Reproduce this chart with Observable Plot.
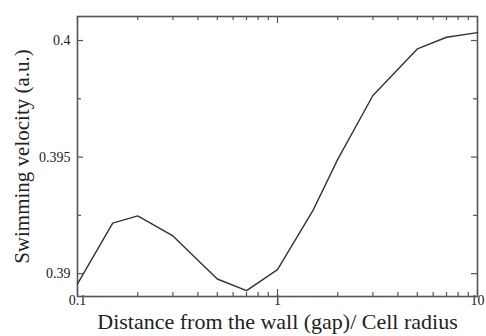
<!DOCTYPE html>
<html>
<head>
<meta charset="utf-8">
<script src="https://cdn.jsdelivr.net/npm/d3@7"></script>
<script src="https://cdn.jsdelivr.net/npm/@observablehq/plot@0.6"></script>
<style>
  html, body { margin: 0; padding: 0; background: #fff; }
  #chart svg { display: block; }
</style>
</head>
<body>
<div id="chart"></div>
<script>
// Data
const gap = [0.1, 0.15, 0.2, 0.3, 0.5, 0.7, 1, 1.5, 2, 3, 5, 7, 10];
const velocity = [0.38956, 0.39217, 0.39248, 0.39162, 0.38977, 0.38927, 0.39017, 0.39269, 0.39490, 0.39764, 0.39964, 0.40014, 0.40034];

// Tick values
const xMajorTicks = [0.1, 1, 10];
const xMinorTicks = [0.2, 0.3, 0.4, 0.5, 0.6, 0.7, 0.8, 0.9, 2, 3, 4, 5, 6, 7, 8, 9];
const yMajorTicks = [0.39, 0.395, 0.4];
const yMinorTicks = [0.3925, 0.3975];

const xLabel = "Distance from the wall (gap)/ Cell radius";
const yLabel = "Swimming velocity (a.u.)";

const table = gap.map((g, i) => ({gap: g, velocity: velocity[i]}));
const axisColor = "#555";
const W = 486, H = 336, mL = 77, mR = 9, mT = 16, mB = 40;
const iw = W - mL - mR, ih = H - mT - mB;
const tk = {stroke: axisColor, strokeWidth: 1.2};

const chart = Plot.plot({
  width: W, height: H, marginLeft: mL, marginRight: mR, marginTop: mT, marginBottom: mB,
  style: {fontFamily: "Liberation Serif, serif", fontSize: "14px", color: "#222", background: "#fff"},
  x: {type: "log", domain: [0.1, 10], axis: null},
  y: {domain: [0.38902, 0.40103], axis: null},
  marks: [
    // inward ticks on all four sides
    Plot.ruleX(xMajorTicks, {x: d => d, insetTop: ih - 7, ...tk}),
    Plot.ruleX(xMinorTicks, {x: d => d, insetTop: ih - 4, ...tk}),
    Plot.ruleX(xMajorTicks, {x: d => d, insetBottom: ih - 7, ...tk}),
    Plot.ruleX(xMinorTicks, {x: d => d, insetBottom: ih - 4, ...tk}),
    Plot.ruleY(yMajorTicks, {y: d => d, insetRight: iw - 6, ...tk}),
    Plot.ruleY(yMinorTicks, {y: d => d, insetRight: iw - 4, ...tk}),
    Plot.ruleY(yMajorTicks, {y: d => d, insetLeft: iw - 6, ...tk}),
    Plot.ruleY(yMinorTicks, {y: d => d, insetLeft: iw - 4, ...tk}),
    // tick labels
    Plot.text(xMajorTicks, {x: d => d, frameAnchor: "bottom", dy: 4, lineAnchor: "middle", textAnchor: "middle", text: d => String(d), fontSize: 14, fill: "#222"}),
    Plot.text(yMajorTicks, {y: d => d, frameAnchor: "left", dx: -7, lineAnchor: "middle", textAnchor: "end", text: d => String(d), fontSize: 14, fill: "#222"}),
    // frame
    Plot.frame({stroke: axisColor, strokeWidth: 1.6}),
    // data line
    Plot.line(table, {x: "gap", y: "velocity", stroke: "#333", strokeWidth: 1.4}),
    // axis titles
    Plot.text([xLabel], {frameAnchor: "bottom", dy: 25, lineAnchor: "middle", textAnchor: "middle", fontSize: 22, fill: "#222"}),
    Plot.text([yLabel], {frameAnchor: "left", dx: -55, rotate: -90, lineAnchor: "middle", textAnchor: "middle", fontSize: 21, fill: "#222"})
  ]
});
document.getElementById("chart").appendChild(chart);
</script>
</body>
</html>
